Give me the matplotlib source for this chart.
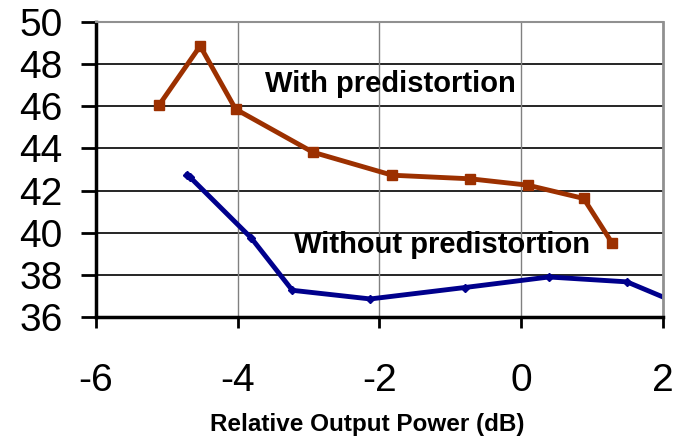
import matplotlib
matplotlib.use('Agg')
import matplotlib.pyplot as plt

# with predistortion (red squares)
with_x = [-5.11, -4.53, -4.03, -2.94, -1.82, -0.72, 0.09, 0.88, 1.28]
with_y = [46.05, 48.85, 45.86, 43.82, 42.73, 42.56, 42.26, 41.63, 39.53]

# without predistortion (blue diamonds), last point runs past the axis
without_x = [-4.72, -4.68, -3.81, -3.23, -2.13, -0.80, 0.39, 1.49, 2.4]
without_y = [42.72, 42.66, 39.76, 37.28, 36.87, 37.41, 37.91, 37.68, 36.4]

x_ticks = [-6, -4, -2, 0, 2]
y_ticks = [36, 38, 40, 42, 44, 46, 48, 50]

red = '#9C3000'
blue = '#00008C'

plt.rcParams['font.family'] = ['Liberation Sans', 'DejaVu Sans']

fig = plt.figure(figsize=(6.74, 4.36), dpi=100)
ax = fig.add_axes([0.1424, 0.2722, 0.8413, 0.678])

ax.plot(with_x, with_y, color=red, linewidth=3.5, marker='s', markersize=7)
ax.plot(without_x, without_y, color=blue, linewidth=3.5, marker='D', markersize=4.5)

ax.set_xlim(-6, 2)
ax.set_ylim(36, 50)
ax.set_xticks(x_ticks)
ax.set_yticks(y_ticks)
ax.set_xticklabels([str(v) for v in x_ticks])
ax.set_yticklabels([str(v) for v in y_ticks])

# grid: black horizontal, gray vertical
for v in y_ticks[1:-1]:
    ax.axhline(v, color='black', linewidth=1.2, zorder=0)
for v in x_ticks[1:-1]:
    ax.axvline(v, color='#808080', linewidth=1.0, zorder=0)

ax.spines['left'].set_linewidth(2.5)
ax.spines['bottom'].set_linewidth(2.5)
ax.spines['top'].set_color('#909090')
ax.spines['top'].set_linewidth(1.5)
ax.spines['right'].set_color('#909090')
ax.spines['right'].set_linewidth(2.0)

ax.tick_params(axis='y', direction='out', length=11, width=2, pad=13, labelsize=28)
ax.tick_params(axis='x', direction='out', length=8, width=2, pad=25, labelsize=28)

ax.text(-1.85, 47.05, 'With predistortion', fontsize=21, fontweight='bold',
        ha='center', va='center')
ax.text(-1.12, 39.42, 'Without predistortion', fontsize=21, fontweight='bold',
        ha='center', va='center')

fig.text(0.5445, 0.026, 'Relative Output Power (dB)', fontsize=17.5,
         fontweight='bold', ha='center', va='center')

fig.savefig('out.png', dpi=100)
